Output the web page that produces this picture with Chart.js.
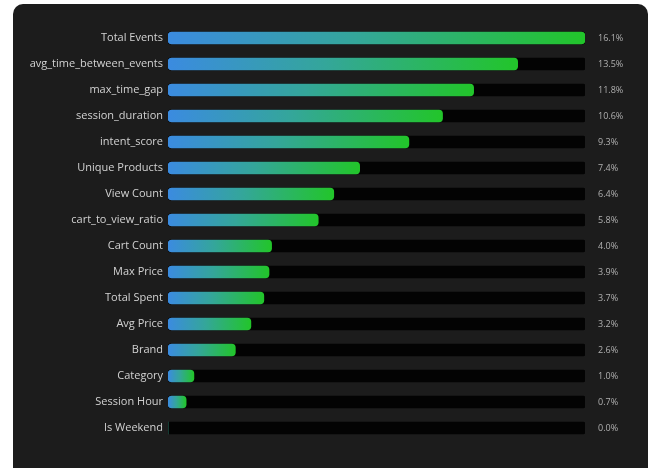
<!DOCTYPE html>
<html>
<head>
<meta charset="utf-8">
<script src="https://cdn.jsdelivr.net/npm/chart.js@4/dist/chart.umd.min.js"></script>
<style>
  html, body { margin: 0; padding: 0; background: #ffffff; }
  #panel {
    position: absolute; left: 13px; top: 4px; width: 635px; height: 464px;
    background: #1c1c1c; border-radius: 10px 10px 0 0; overflow: hidden;
  }
  canvas { display: block; }
</style>
</head>
<body>
<div id="panel"><canvas id="chart" width="635" height="464"></canvas></div>
<script>
// feature importance, percent
const features = [
  "Total Events", "avg_time_between_events", "max_time_gap", "session_duration",
  "intent_score", "Unique Products", "View Count", "cart_to_view_ratio",
  "Cart Count", "Max Price", "Total Spent", "Avg Price",
  "Brand", "Category", "Session Hour", "Is Weekend"
];
const importance = [16.1, 13.5, 11.8, 10.6, 9.3, 7.4, 6.4, 5.8, 4.0, 3.9, 3.7, 3.2, 2.6, 1.0, 0.7, 0.0];

const maxVal = Math.max(...importance);
const trackValues = features.map(() => maxVal);

function barGradient(context) {
  const chart = context.chart;
  const xScale = chart.scales.x;
  if (!xScale) return "#2fb84a";
  const v = context.raw || 0;
  const x0 = xScale.getPixelForValue(0);
  const x1 = Math.max(xScale.getPixelForValue(v), x0 + 1);
  if (!isFinite(x0) || !isFinite(x1)) return "#2fb84a";
  const g = chart.ctx.createLinearGradient(x0, 0, x1, 0);
  g.addColorStop(0, "#3b8be0");
  g.addColorStop(0.45, "#34a69a");
  g.addColorStop(1, "#22c52a");
  return g;
}

const valueLabels = {
  id: "valueLabels",
  afterDatasetsDraw(chart) {
    const ctx = chart.ctx;
    const meta = chart.getDatasetMeta(0);
    ctx.save();
    ctx.font = "9px 'Open Sans', sans-serif";
    ctx.fillStyle = "#b0b0b0";
    ctx.textAlign = "left";
    ctx.textBaseline = "middle";
    meta.data.forEach((bar, i) => {
      ctx.fillText(importance[i].toFixed(1) + "%", chart.chartArea.right + 13, bar.y);
    });
    ctx.restore();
  }
};

new Chart(document.getElementById("chart"), {
  type: "bar",
  data: {
    labels: features,
    datasets: [
      {
        data: importance,
        backgroundColor: barGradient,
        borderRadius: 4,
        borderSkipped: false,
        barThickness: 12,
        order: 0
      },
      {
        data: trackValues,
        backgroundColor: "#030303",
        borderRadius: 2,
        borderSkipped: false,
        barThickness: 12,
        order: 1
      }
    ]
  },
  options: {
    indexAxis: "y",
    responsive: false,
    animation: false,
    layout: { padding: { top: 21, bottom: 27, right: 63, left: 0 } },
    plugins: {
      legend: { display: false },
      tooltip: { enabled: false }
    },
    datasets: { bar: { grouped: false } },
    scales: {
      x: { display: false, min: 0, max: maxVal },
      y: {
        grid: { display: false, drawTicks: false },
        border: { display: false },
        ticks: {
          color: "#d2d2d2",
          font: { family: "'Open Sans', sans-serif", size: 11 },
          padding: 5
        },
        afterFit(scale) { scale.width = 155; }
      }
    }
  },
  plugins: [valueLabels]
});
</script>
</body>
</html>
